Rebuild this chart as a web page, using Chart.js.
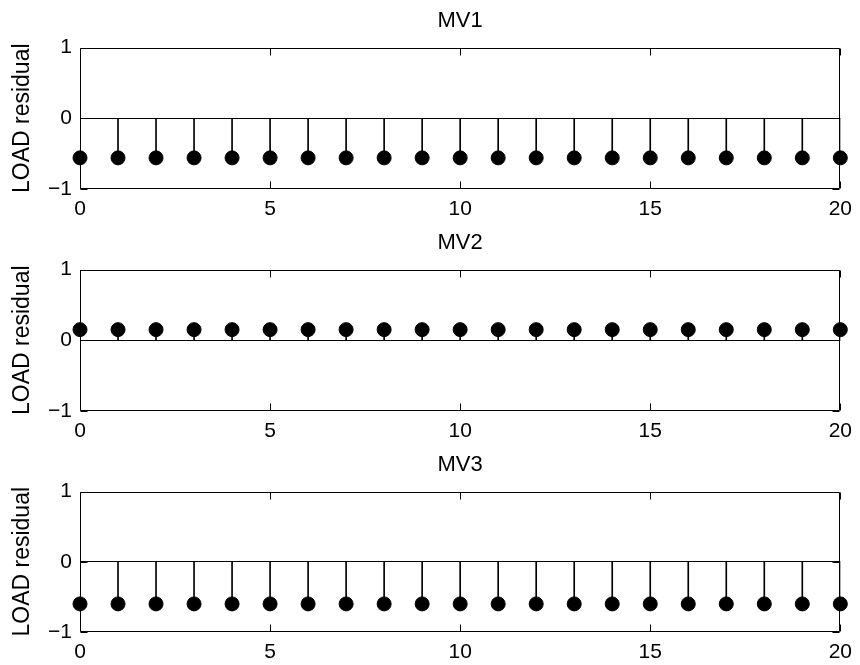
<!DOCTYPE html>
<html>
<head>
<meta charset="utf-8">
<script src="https://cdn.jsdelivr.net/npm/chart.js@4/dist/chart.umd.min.js"></script>
<style>
  html, body { margin: 0; padding: 0; background: #fff; }
  #page { position: relative; width: 860px; height: 665px; background: #fff; }
  #page canvas { position: absolute; left: 0; }
</style>
</head>
<body>
<div id="page">
  <canvas id="mv1" width="860" height="222" style="top:0px"></canvas>
  <canvas id="mv2" width="860" height="222" style="top:222px"></canvas>
  <canvas id="mv3" width="860" height="221" style="top:444px"></canvas>
</div>
<script>
// Sample index (horizontal axis)
const steps = [0, 1, 2, 3, 4, 5, 6, 7, 8, 9, 10, 11, 12, 13, 14, 15, 16, 17, 18, 19, 20];

// LOAD residual per manipulated variable
const mv1Residual = [-0.56, -0.56, -0.56, -0.56, -0.56, -0.56, -0.56, -0.56, -0.56, -0.56, -0.56,
                     -0.56, -0.56, -0.56, -0.56, -0.56, -0.56, -0.56, -0.56, -0.56, -0.56];
const mv2Residual = [0.15, 0.15, 0.15, 0.15, 0.15, 0.15, 0.15, 0.15, 0.15, 0.15, 0.15,
                     0.15, 0.15, 0.15, 0.15, 0.15, 0.15, 0.15, 0.15, 0.15, 0.15];
const mv3Residual = [-0.60, -0.60, -0.60, -0.60, -0.60, -0.60, -0.60, -0.60, -0.60, -0.60, -0.60,
                     -0.60, -0.60, -0.60, -0.60, -0.60, -0.60, -0.60, -0.60, -0.60, -0.60];

// Axis text
const subplotTitles = ['MV1', 'MV2', 'MV3'];
const xTickValues = [0, 5, 10, 15, 20];
const xTickLabels = ['0', '5', '10', '15', '20'];
const yTickValues = [-1, 0, 1];
const yTickLabels = ['\u22121', '0', '1'];
const yAxisLabel = 'LOAD residual';

const FONT = "'Liberation Sans', Arial, Helvetica, sans-serif";

// Box around the axes, inward tick marks and the rotated y label
const axesFrame = {
  id: 'axesFrame',
  beforeDatasetsDraw(chart) {
    const { ctx, chartArea: a, scales } = chart;
    const L = Math.round(a.left) + 0.5, R = Math.round(a.right) - 0.5;
    const T = Math.round(a.top) + 0.5, B = Math.round(a.bottom) - 0.5;
    const tick = 7;
    ctx.save();
    ctx.strokeStyle = '#000';
    ctx.lineWidth = 1;
    ctx.beginPath();
    ctx.rect(L, T, R - L, B - T);
    xTickValues.forEach(v => {
      const px = Math.round(scales.x.getPixelForValue(v)) + 0.5;
      ctx.moveTo(px, B); ctx.lineTo(px, B - tick);
      ctx.moveTo(px, T); ctx.lineTo(px, T + tick);
    });
    yTickValues.forEach(v => {
      const py = Math.round(scales.y.getPixelForValue(v)) + 0.5;
      ctx.moveTo(L, py); ctx.lineTo(L + tick, py);
      ctx.moveTo(R, py); ctx.lineTo(R - tick, py);
    });
    ctx.stroke();

    ctx.fillStyle = '#000';
    ctx.font = '23px ' + FONT;
    ctx.textAlign = 'center';
    ctx.textBaseline = 'middle';
    ctx.translate(23, (a.top + a.bottom) / 2);
    ctx.rotate(-Math.PI / 2);
    ctx.fillText(yAxisLabel, 0, 0);
    ctx.restore();
  }
};

function stemChart(canvasId, title, values) {
  const stems = steps.map((x, i) => ({ x: x, y: values[i] }));
  return new Chart(document.getElementById(canvasId), {
    type: 'bar',
    data: {
      datasets: [
        {
          type: 'line',
          data: stems,
          showLine: false,
          pointRadius: 7,
          pointHoverRadius: 7,
          pointBorderWidth: 1,
          pointBackgroundColor: '#000',
          pointBorderColor: '#000',
          clip: false,
          order: 0
        },
        {
          type: 'bar',
          data: stems,
          barThickness: 1,
          backgroundColor: '#000',
          borderWidth: 0,
          order: 1
        }
      ]
    },
    options: {
      responsive: false,
      animation: false,
      devicePixelRatio: 1,
      events: [],
      layout: { padding: { left: 0, right: 14, top: 0, bottom: 0 } },
      plugins: {
        legend: { display: false },
        tooltip: { enabled: false },
        title: {
          display: true,
          text: title,
          fullSize: false,
          color: '#000',
          font: { family: FONT, size: 22, weight: 'normal', lineHeight: 1.2 },
          padding: { top: 7.5, bottom: 13.6 }
        }
      },
      scales: {
        x: {
          type: 'linear',
          min: 0,
          max: 20,
          offset: false,
          afterBuildTicks(scale) { scale.ticks = xTickValues.map(v => ({ value: v })); },
          ticks: {
            color: '#000',
            font: { family: FONT, size: 21 },
            padding: 8,
            maxRotation: 0,
            autoSkip: false,
            callback: (v, i) => xTickLabels[i]
          },
          grid: { display: false, drawTicks: false },
          border: { display: false },
          afterFit(scale) { scale.height = 33; }
        },
        y: {
          type: 'linear',
          min: -1,
          max: 1,
          afterBuildTicks(scale) { scale.ticks = yTickValues.map(v => ({ value: v })); },
          ticks: {
            color: '#000',
            font: { family: FONT, size: 21 },
            padding: 8,
            callback: (v, i) => yTickLabels[i]
          },
          grid: {
            drawTicks: false,
            lineWidth: 1,
            color: c => (c.tick && c.tick.value === 0) ? '#000' : 'rgba(0,0,0,0)'
          },
          border: { display: false },
          afterFit(scale) { scale.width = 80; }
        }
      }
    },
    plugins: [axesFrame]
  });
}

stemChart('mv1', subplotTitles[0], mv1Residual);
stemChart('mv2', subplotTitles[1], mv2Residual);
stemChart('mv3', subplotTitles[2], mv3Residual);
</script>
</body>
</html>
